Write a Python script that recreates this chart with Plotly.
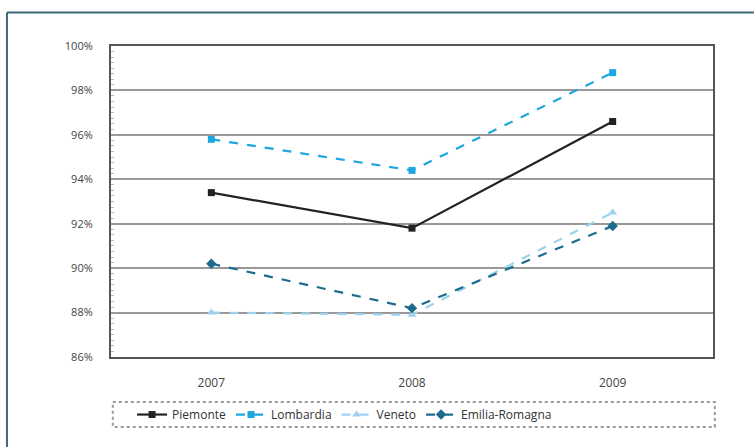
import plotly.graph_objects as go

years = ["2007", "2008", "2009"]
piemonte = [93.4, 91.8, 96.6]
lombardia = [95.8, 94.4, 98.8]
veneto = [88.0, 87.9, 92.5]
emilia = [90.2, 88.2, 91.9]

series = [
    ("Piemonte", piemonte, "#222222", "solid", "square", 7),
    ("Lombardia", lombardia, "#1ea6e0", "dash", "square", 7),
    ("Veneto", veneto, "#9dd3f0", "dash", "triangle-up", 8),
    ("Emilia-Romagna", emilia, "#1c6c8c", "dash", "diamond", 8),
]

fig = go.Figure()
for name, vals, color, dash, sym, size in series:
    fig.add_trace(go.Scatter(
        x=years, y=vals, name=name, mode="lines+markers",
        line=dict(color=color, width=2.2, dash=dash),
        marker=dict(symbol=sym, size=size, color=color),
    ))

font = "Open Sans, Liberation Sans, sans-serif"
fig.update_layout(
    width=754, height=447,
    margin=dict(l=111, r=41, t=46, b=90, autoexpand=False),
    paper_bgcolor="white", plot_bgcolor="white",
    font=dict(family=font, size=11, color="#444"),
    showlegend=True,
    legend=dict(orientation="h", x=0.035, xanchor="left", y=-0.185, yanchor="middle",
                bgcolor="rgba(0,0,0,0)", font=dict(size=12, color="#333"),
                itemwidth=30, tracegroupgap=0),
    xaxis=dict(type="category", range=[-0.5, 2.5], showgrid=False, showline=True,
               linecolor="#555", linewidth=2, mirror=True, ticks="",
               ticklabelstandoff=14, tickfont=dict(size=12, color="#444")),
    yaxis=dict(range=[86, 100], dtick=2, ticksuffix="%", showgrid=True,
               gridcolor="#999999", gridwidth=2, showline=True, linecolor="#555",
               linewidth=2, mirror=True, ticks="", ticklabelstandoff=14,
               zeroline=False, tickfont=dict(size=11, color="#444"),
               minor=dict(dtick=0.25, ticks="inside", ticklen=3, tickcolor="#bbb",
                          showgrid=False)),
)

# outer frame (top and left edges)
fc = "#3b6a7a"
fig.add_shape(type="line", xref="paper", yref="paper", x0=-0.1728, x1=1.07,
              y0=1.1077, y1=1.1077, line=dict(color=fc, width=2))
fig.add_shape(type="line", xref="paper", yref="paper", x0=-0.1728, x1=-0.1728,
              y0=1.1077, y1=-0.35, line=dict(color=fc, width=2))
# legend box
fig.add_shape(type="rect", xref="paper", yref="paper", x0=0.003, x1=1.003,
              y0=-0.145, y1=-0.225, line=dict(color="#999", width=2, dash="dot"))

fig.write_html("out.html", config={"displayModeBar": False},
               post_script="document.body.style.margin='0';document.body.style.overflow='hidden';")
